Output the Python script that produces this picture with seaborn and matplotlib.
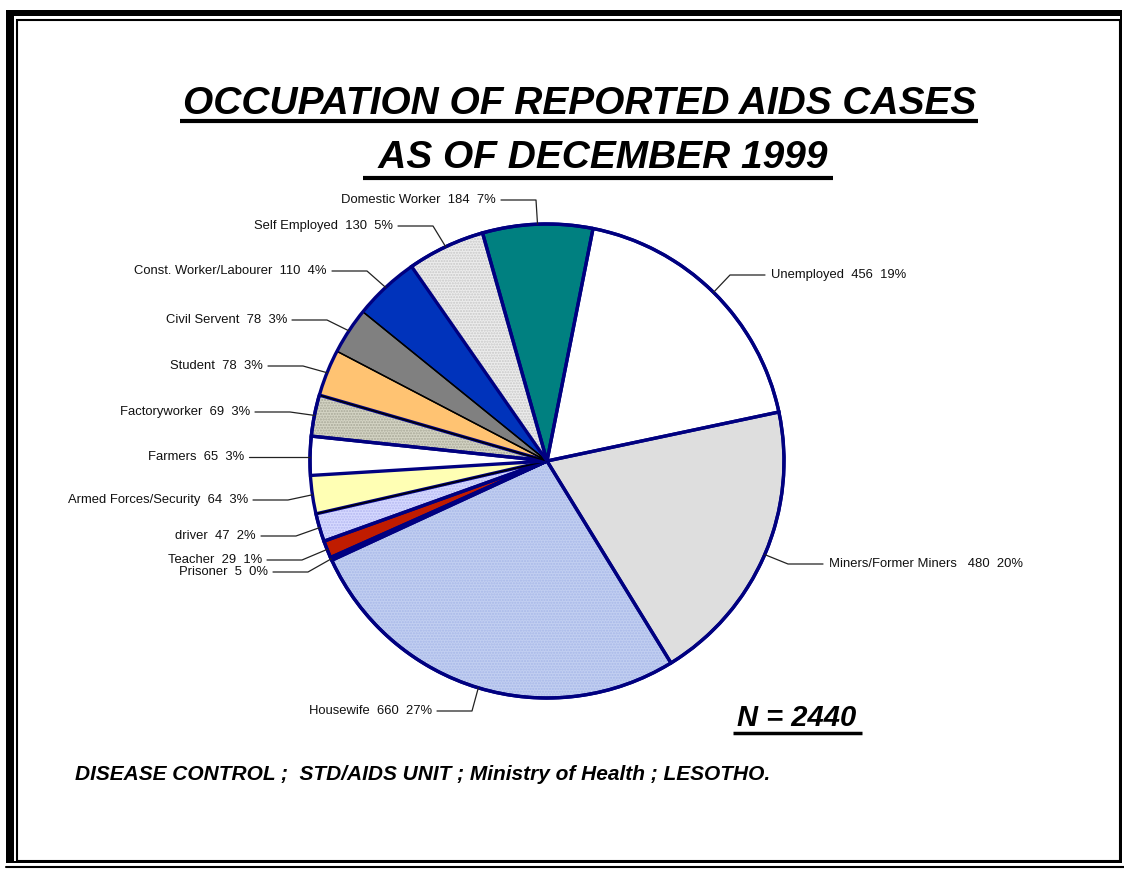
import matplotlib
matplotlib.use("Agg")
import matplotlib.pyplot as plt
import seaborn as sns
import numpy as np
from matplotlib.patches import Rectangle

sns.set_theme(style="white")

# ---------------- data ----------------
categories = ["Unemployed", "Miners/Former Miners", "Housewife", "Prisoner", "Teacher",
              "driver", "Armed Forces/Security", "Farmers", "Factoryworker", "Student",
              "Civil Servent", "Const. Worker/Labourer", "Self Employed", "Domestic Worker"]
values = [456, 480, 660, 5, 29, 47, 64, 65, 69, 78, 78, 110, 130, 184]
title_lines = ["OCCUPATION OF REPORTED AIDS CASES", " AS OF DECEMBER 1999"]
n_text = "N = 2440"
footer = "DISEASE CONTROL ;  STD/AIDS UNIT ; Ministry of Health ; LESOTHO."

# ---------------- styles ----------------
face = ["#ffffff", "#dedede", "#c2cff1", "#000080", "#c01c00", "#d6d9ff", "#ffffb4",
        "#ffffff", "#d4d4c4", "#ffc372", "#808080", "#0033bb", "#ececec", "#008080"]
edge = ["#000080", "#000080", "#000080", "#000080", "#000080", "#000080", "#000000",
        "#000080", "#000080", "#000000", "#000000", "#000000", "#000080", "#000080"]
ew = [2.4, 2.4, 2.4, 2.4, 2.4, 2.4, 1.0, 2.4, 2.4, 1.0, 1.0, 1.0, 2.4, 2.4]
hatch = [None, None, "......", None, None, "......", None, None, "......", None, None,
         None, "......", None]
hatch_col = [None, None, "#a8b8e8", None, None, "#b4b8f0", None, None, "#a8a898",
             None, None, None, "#c8c8c8", None]

# label anchor (px, top-left origin) and side
label_pos = [(771, 275, "L"), (829, 564, "L"), (432, 711, "R"), (268, 572, "R"),
             (262, 560, "R"), (256, 536, "R"), (248, 500, "R"), (244, 457, "R"),
             (250, 412, "R"), (263, 366, "R"), (287, 320, "R"), (327, 271, "R"),
             (393, 226, "R"), (496, 200, "R")]

W, H = 1124, 869
fig = plt.figure(figsize=(W / 100, H / 100), dpi=100)
ax = fig.add_axes([0, 0, 1, 1])

def Y(y):
    return H - y

cx, cy, R = 547, 461, 237
total = sum(values)

wedges, _ = ax.pie(values, colors=face, startangle=78.8, counterclock=False,
                   center=(cx, Y(cy)), radius=R,
                   wedgeprops=dict(linewidth=0))
# hatch overlay
for i, w in enumerate(wedges):
    if hatch[i]:
        w2 = matplotlib.patches.Wedge((cx, Y(cy)), R, w.theta1, w.theta2,
                                      facecolor="none", edgecolor=hatch_col[i],
                                      linewidth=0, hatch=hatch[i], zorder=2)
        ax.add_patch(w2)
# edges
for i, w in enumerate(wedges):
    w3 = matplotlib.patches.Wedge((cx, Y(cy)), R, w.theta1, w.theta2,
                                  facecolor="none", edgecolor=edge[i],
                                  linewidth=ew[i], zorder=3)
    ax.add_patch(w3)
# outer rim navy
rim = matplotlib.patches.Circle((cx, Y(cy)), R, facecolor="none",
                                edgecolor="#000080", linewidth=2.4, zorder=4)
ax.add_patch(rim)

lab_font = dict(family=["Liberation Sans Narrow", "Liberation Sans", "DejaVu Sans"],
                fontsize=9.4, color="#111111")
for i, w in enumerate(wedges):
    pct = round(values[i] / total * 100)
    sep = "   " if categories[i].startswith("Miners") else "  "
    txt = f"{categories[i]}{sep}{values[i]}  {pct}%"
    tx, ty, side = label_pos[i]
    mid = np.deg2rad((w.theta1 + w.theta2) / 2)
    ex = cx + R * np.cos(mid)
    ey = Y(cy) + R * np.sin(mid)
    if side == "R":
        ax.text(tx, Y(ty), txt, ha="right", va="center", zorder=6, **lab_font)
        x0 = tx + 5
        x1 = tx + 40
    else:
        ax.text(tx, Y(ty), txt, ha="left", va="center", zorder=6, **lab_font)
        x0 = tx - 6
        x1 = tx - 41
    if abs(Y(ty) - ey) < 3:
        ax.plot([x0, ex], [Y(ty), Y(ty)], color="#222222", lw=0.9, zorder=5)
    else:
        ax.plot([x0, x1, ex], [Y(ty), Y(ty), ey], color="#222222", lw=0.9, zorder=5)

# titles
tfont = dict(family=["Liberation Sans", "DejaVu Sans"], fontweight="bold",
             fontstyle="italic", color="black")
ax.text(580, Y(104), title_lines[0], ha="center", va="center", fontsize=28, **tfont)
ax.plot([180, 978], [Y(121), Y(121)], color="black", lw=3, solid_capstyle="butt")
ax.text(598, Y(158), title_lines[1], ha="center", va="center", fontsize=28, **tfont)
ax.plot([363, 833], [Y(178), Y(178)], color="black", lw=3, solid_capstyle="butt")

ax.text(797, Y(718), n_text, ha="center", va="center", fontsize=21, **tfont)
ax.plot([733, 862], [Y(733), Y(733)], color="black", lw=2.5, solid_capstyle="butt")

ax.text(75, Y(774), footer, ha="left", va="center", fontsize=15, **tfont)

# frame
ax.add_patch(Rectangle((6, Y(863)), 1116, 853, facecolor="black", edgecolor="none", zorder=0))
ax.add_patch(Rectangle((14, Y(861)), 1106, 845, facecolor="white", edgecolor="none", zorder=0))
ax.add_patch(Rectangle((16.5, Y(860.5)), 1103, 841, facecolor="none", edgecolor="black",
                       linewidth=1.5, zorder=1))
ax.plot([6, 1124], [Y(867), Y(867)], color="black", lw=1.5)

ax.set_xlim(0, W)
ax.set_ylim(0, H)
ax.set_aspect("auto")
ax.axis("off")

fig.savefig("out.png", dpi=100)
